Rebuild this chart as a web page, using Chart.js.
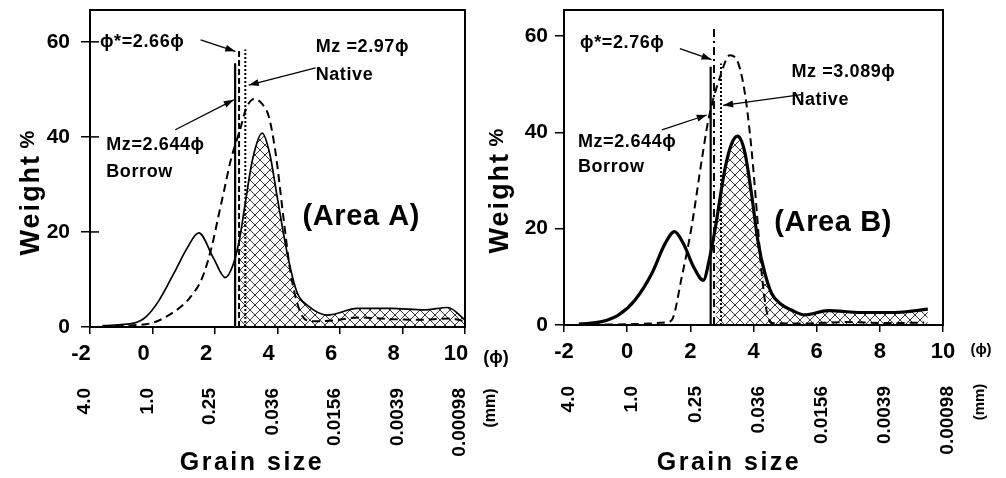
<!DOCTYPE html>
<html>
<head>
<meta charset="utf-8">
<script src="https://cdn.jsdelivr.net/npm/chart.js@4.4.1/dist/chart.umd.min.js"></script>
<style>
  html, body { margin: 0; padding: 0; background: #fff; }
  #wrap { position: relative; width: 1006px; height: 478px; overflow: hidden; }
  .panel { position: absolute; top: 0; height: 478px; }
  #panelA { left: 0; width: 520px; }
  #panelB { left: 480px; width: 526px; }
</style>
</head>
<body>
<div id="wrap">
  <div class="panel" id="panelA"><canvas id="chartA"></canvas></div>
  <div class="panel" id="panelB"><canvas id="chartB"></canvas></div>
</div>
<script>
// axis ticks (phi scale) and matching grain sizes in mm
const phiTicks = [-2, 0, 2, 4, 6, 8, 10]
const mmLabels = ['4.0', '1.0', '0.25', '0.036', '0.0156', '0.0039', '0.00098']
const weightTicks = [0, 20, 40, 60]

// Area A
const nativeA_phi = [-1.6, -0.6, -0.2, 0.2, 0.7, 1.1, 1.48, 1.95, 2.33, 2.6, 2.8, 2.95, 3.2, 3.51, 3.75, 3.99, 4.31, 4.63, 4.95, 5.6, 6.56, 7.63, 8.7, 9.45, 10]
const nativeA_wt  = [0.3, 0.8, 2.2, 5.5, 11.5, 16.5, 19.8, 14.5, 10.4, 13.5, 19, 25.3, 35.2, 40.8, 36.5, 27.4, 15.5, 7.2, 4.6, 2.5, 3.9, 3.9, 3.6, 4.1, 1.5]
const borrowA_phi = [-1.6, -0.2, 0.6, 1.2, 1.6, 1.9, 2.1, 2.3, 2.5, 2.8, 3.0, 3.25, 3.5, 3.72, 3.94, 4.2, 4.42, 4.74, 5.1, 5.8, 6.6, 7.5, 8.5, 9.5, 10]
const borrowA_wt  = [0.2, 0.6, 2.8, 6.2, 10.5, 17, 23, 29, 35, 41.5, 46, 48, 47, 44.3, 36.6, 22.5, 11.3, 3, 1.2, 1.4, 2, 1.7, 1.5, 1.8, 1.2]
const meansA_phi  = [2.644, 2.77, 2.97]      // Mz borrow, phi*, Mz native (drawn positions)
const meansA_top  = [55.5, 58.4, 58.4]

// Area B
const nativeB_phi = [-1.53, -0.8, -0.27, 0.25, 0.78, 1.2, 1.5, 1.78, 2.1, 2.41, 2.62, 2.8, 3.09, 3.3, 3.5, 3.72, 3.92, 4.15, 4.35, 4.57, 4.85, 5.2, 5.62, 6.36, 7.41, 8.46, 9.52]
const nativeB_wt  = [0.2, 0.7, 2.1, 5.2, 10.7, 16.9, 19.4, 16.9, 12.1, 9.3, 14.2, 20.5, 32.2, 37.5, 39.2, 36, 28, 17, 11, 6.6, 4.4, 3.1, 2.1, 3.0, 2.6, 2.6, 3.3]
const borrowB_phi = [-1.53, 0.25, 1.2, 1.41, 1.73, 2.04, 2.36, 2.57, 2.94, 3.25, 3.52, 3.73, 3.94, 4.1, 4.25, 4.41, 4.57, 5.5, 6.9, 8.2, 9.4]
const borrowB_wt  = [0, 0.2, 0.5, 1.0, 10, 20.4, 34.2, 42.5, 51.5, 56, 54.3, 48, 36.3, 23.9, 11.4, 3.1, 0.4, 0.3, 0.6, 0.4, 0.5]
const meansB_phi  = [2.644, 2.75, 2.97]
const meansB_top  = [53.6, 62.2, 54.3]

const HATCH_FROM = 2.8
const FONT = '"Liberation Sans", Arial, Helvetica, sans-serif'
const PHI = '\u03d5'

function pts(xs, ys) {
    return xs.map((x, i) => ({ x: x, y: ys[i] }))
}

function hatchPattern() {
    const c = document.createElement('canvas')
    c.width = 10
    c.height = 10
    const g = c.getContext('2d')
    g.strokeStyle = '#3a3a3a'
    g.lineWidth = 1
    g.beginPath()
    g.moveTo(0, 0); g.lineTo(10, 10)
    g.moveTo(10, 0); g.lineTo(0, 10)
    g.stroke()
    return g.createPattern(c, 'repeat')
}

function arrow(ctx, x1, y1, x2, y2) {
    ctx.beginPath()
    ctx.moveTo(x1, y1)
    ctx.lineTo(x2, y2)
    ctx.stroke()
    const a = Math.atan2(y2 - y1, x2 - x1), L = 10, W = 3.5
    ctx.beginPath()
    ctx.moveTo(x2, y2)
    ctx.lineTo(x2 - L * Math.cos(a) + W * Math.sin(a), y2 - L * Math.sin(a) - W * Math.cos(a))
    ctx.lineTo(x2 - L * Math.cos(a) - W * Math.sin(a), y2 - L * Math.sin(a) + W * Math.cos(a))
    ctx.closePath()
    ctx.fill()
}

const decorPlugin = {
    id: 'decor',
    afterDraw(chart) {
        const p = chart.options.plugins.decor
        const ctx = chart.ctx
        const xs = chart.scales.x, ys = chart.scales.y
        const a = chart.chartArea
        ctx.save()
        // frame
        ctx.strokeStyle = '#000'
        ctx.lineWidth = 2
        ctx.strokeRect(a.left, a.top, a.right - a.left, a.bottom - a.top)

        // ticks that cross the y axis
        if (p.innerTick) {
            ctx.lineWidth = 1.5
            weightTicks.forEach(v => {
                const y = ys.getPixelForValue(v)
                ctx.beginPath()
                ctx.moveTo(a.left, y)
                ctx.lineTo(a.left + p.innerTick, y)
                ctx.stroke()
            })
        }

        ctx.fillStyle = '#000'
        ctx.lineWidth = 1.3
        ctx.textBaseline = 'middle'
        ctx.letterSpacing = '0.6px'
        p.notes.forEach(n => {
            ctx.font = 'bold ' + n.size + 'px ' + FONT
            ctx.textAlign = 'left'
            ctx.fillText(n.text, xs.getPixelForValue(n.x), ys.getPixelForValue(n.y))
        })
        p.arrows.forEach(ar => {
            arrow(ctx, xs.getPixelForValue(ar[0]), ys.getPixelForValue(ar[1]),
                xs.getPixelForValue(ar[2]), ys.getPixelForValue(ar[3]))
        })

        // axis titles
        ctx.letterSpacing = '2.5px'
        ctx.textAlign = 'center'
        ctx.font = 'bold 25px ' + FONT
        ctx.fillText('Grain size', p.grainPos[0], p.grainPos[1])

        ctx.save()
        ctx.translate(p.weightPos[0], p.weightPos[1])
        ctx.rotate(-Math.PI / 2)
        ctx.letterSpacing = '2px'
        ctx.font = 'bold 27px ' + FONT
        const w1 = ctx.measureText('Weight ').width
        ctx.font = 'bold 20px ' + FONT
        const w2 = ctx.measureText('%').width
        ctx.textAlign = 'left'
        ctx.font = 'bold 27px ' + FONT
        ctx.fillText('Weight', -(w1 + w2) / 2, 0)
        ctx.font = 'bold 20px ' + FONT
        ctx.fillText('%', -(w1 + w2) / 2 + w1 - 4, -4)
        ctx.restore()

        // units
        ctx.letterSpacing = '0px'
        ctx.textAlign = 'center'
        ctx.font = 'bold ' + p.phiUnit[2] + 'px ' + FONT
        ctx.fillText('(' + PHI + ')', p.phiUnit[0], p.phiUnit[1])
        ctx.save()
        ctx.translate(p.mmUnit[0], p.mmUnit[1])
        ctx.rotate(-Math.PI / 2)
        ctx.font = 'bold ' + p.mmUnit[2] + 'px ' + FONT
        ctx.fillText('(mm)', 0, 0)
        ctx.restore()

        ctx.restore()
    }
}

function makePanel(p) {
    const pattern = hatchPattern()
    const nativeData = pts(p.nativePhi, p.nativeWt)
    const hatchData = nativeData.filter(d => d.x >= HATCH_FROM)
    const lineStyle = {
        pointRadius: 0, tension: 0.4, cubicInterpolationMode: 'monotone', fill: false, borderColor: '#000'
    }
    const vline = (i, dash, width) => ({
        data: [{ x: p.meansPhi[i], y: 0 }, { x: p.meansPhi[i], y: p.meansTop[i] }],
        borderColor: '#000', borderWidth: width, borderDash: dash, pointRadius: 0, tension: 0, fill: false
    })
    const tickFont = { family: FONT, size: 22, weight: 'bold' }

    new Chart(document.getElementById(p.id), {
        type: 'line',
        data: {
            datasets: [
                Object.assign({ data: nativeData, borderWidth: p.nativeWidth }, lineStyle),
                Object.assign({ data: pts(p.borrowPhi, p.borrowWt), borderWidth: 2, borderDash: [8, 5] }, lineStyle),
                vline(0, [], 2.2),
                vline(1, p.starDash, 2),
                vline(2, [2, 2], 2),
                Object.assign({}, lineStyle, {
                    data: hatchData, borderWidth: 0, fill: 'origin', backgroundColor: pattern
                })
            ]
        },
        options: {
            responsive: true,
            maintainAspectRatio: false,
            animation: false,
            devicePixelRatio: 1,
            layout: { padding: { left: 0, top: 10, right: p.padRight, bottom: 0 } },
            plugins: {
                legend: { display: false },
                tooltip: { enabled: false },
                decor: p.decor
            },
            scales: {
                x: {
                    type: 'linear', min: -2, max: 10, position: 'bottom',
                    afterBuildTicks: s => { s.ticks = phiTicks.map(v => ({ value: v })) },
                    ticks: { font: tickFont, color: '#000', padding: 7, labelOffset: p.labelOffset, maxRotation: 0, autoSkip: false },
                    grid: { display: true, drawOnChartArea: false, drawTicks: true, tickLength: 7, color: '#000', lineWidth: 1.5 },
                    border: { display: true, color: '#000', width: 2 },
                    afterFit: s => { s.height = 40; s.paddingLeft = 0; s.paddingRight = 0 }
                },
                mm: {
                    type: 'linear', min: -2, max: 10, position: 'bottom',
                    afterBuildTicks: s => { s.ticks = phiTicks.map(v => ({ value: v })) },
                    ticks: {
                        callback: (v, i) => mmLabels[i],
                        minRotation: 90, maxRotation: 90, autoSkip: false,
                        font: { family: FONT, size: 19, weight: 'bold' }, color: '#000',
                        padding: 13, labelOffset: p.mmOffset
                    },
                    grid: { display: false },
                    border: { display: false },
                    afterFit: s => { s.height = p.mmHeight; s.paddingLeft = 0; s.paddingRight = 0 }
                },
                y: {
                    type: 'linear', min: 0, max: p.yMax, position: 'left',
                    afterBuildTicks: s => { s.ticks = weightTicks.map(v => ({ value: v })) },
                    ticks: { font: { family: FONT, size: 21, weight: 'bold' }, color: '#000', padding: p.yPad },
                    grid: { display: true, drawOnChartArea: false, drawTicks: true, tickLength: 9, color: '#000', lineWidth: 1.5 },
                    border: { display: true, color: '#000', width: 2 },
                    afterFit: s => { s.width = p.yWidth; s.paddingTop = 0; s.paddingBottom = 0 }
                }
            }
        },
        plugins: [decorPlugin]
    })
}

makePanel({
    id: 'chartA', yMax: 66.7, padRight: 55, yWidth: 90, yPad: 11, labelOffset: -9, mmOffset: -5, mmHeight: 111,
    nativePhi: nativeA_phi, nativeWt: nativeA_wt, borrowPhi: borrowA_phi, borrowWt: borrowA_wt,
    meansPhi: meansA_phi, meansTop: meansA_top, nativeWidth: 1.7, starDash: [6, 3],
    decor: {
        innerTick: 9,
        notes: [
            { text: PHI + '*=2.66' + PHI, x: -1.68, y: 60, size: 18 },
            { text: 'Mz =2.97' + PHI, x: 5.22, y: 58.9, size: 18 },
            { text: 'Native', x: 5.22, y: 53, size: 18 },
            { text: 'Mz=2.644' + PHI, x: -1.48, y: 38.3, size: 18 },
            { text: 'Borrow', x: -1.48, y: 32.6, size: 18 },
            { text: '(Area A)', x: 4.8, y: 23.2, size: 29 }
        ],
        arrows: [
            [1.54, 60.4, 2.65, 58.0],
            [5.22, 54.5, 3.08, 50.9],
            [0.73, 41.5, 2.6, 47.8]
        ],
        grainPos: [252, 463], weightPos: [32, 190], phiUnit: [496, 358, 18], mmUnit: [491, 408, 16]
    }
})

makePanel({
    id: 'chartB', yMax: 65.4, padRight: 63, yWidth: 84, yPad: 7, labelOffset: 0, mmOffset: 5, mmHeight: 113,
    nativePhi: nativeB_phi, nativeWt: nativeB_wt, borrowPhi: borrowB_phi, borrowWt: borrowB_wt,
    meansPhi: meansB_phi, meansTop: meansB_top, nativeWidth: 3.2, starDash: [8, 4, 2, 4],
    decor: {
        innerTick: 0,
        notes: [
            { text: PHI + '*=2.76' + PHI, x: -1.49, y: 58.5, size: 18 },
            { text: 'Mz =3.089' + PHI, x: 5.2, y: 52.5, size: 18 },
            { text: 'Native', x: 5.2, y: 46.7, size: 18 },
            { text: 'Mz=2.644' + PHI, x: -1.56, y: 38, size: 18 },
            { text: 'Borrow', x: -1.56, y: 32.8, size: 18 },
            { text: '(Area B)', x: 4.66, y: 21.2, size: 29 }
        ],
        arrows: [
            [1.67, 57.4, 2.67, 55.1],
            [5.57, 47.9, 3.04, 45.6],
            [1.1, 40.5, 2.52, 43.6]
        ],
        grainPos: [249, 463], weightPos: [21, 188], phiUnit: [501, 350, 15], mmUnit: [500, 402, 15]
    }
})
</script>
</body>
</html>
